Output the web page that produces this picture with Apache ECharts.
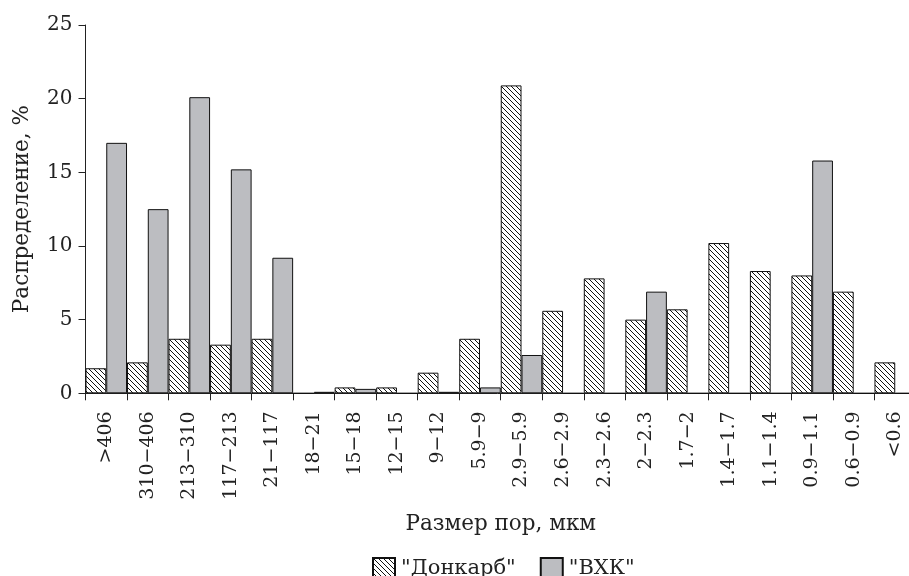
<!DOCTYPE html>
<html>
<head>
<meta charset="utf-8">
<script src="https://cdn.jsdelivr.net/npm/echarts@6/dist/echarts.min.js"></script>
<style>html,body{margin:0;padding:0;background:#fff}#c{width:909px;height:576px}</style>
</head>
<body>
<div id="c"></div>
<script>
var categories = ['>406','310−406','213−310','117−213','21−117','18−21','15−18','12−15','9−12','5.9−9','2.9−5.9','2.6−2.9','2.3−2.6','2−2.3','1.7−2','1.4−1.7','1.1−1.4','0.9−1.1','0.6−0.9','<0.6'];
var donkarb = [1.7,2.1,3.7,3.3,3.7,0,0.4,0.4,1.4,3.7,20.9,5.6,7.8,5.0,5.7,10.2,8.3,8.0,6.9,2.1];
var vhk = [17.0,12.5,20.1,15.2,9.2,0.1,0.3,0,0.1,0.4,2.6,0,0,6.9,0,0,0,15.8,0,0];
var seriesNames = ['"Донкарб"','"ВХК"'];
var yTicks = [0,5,10,15,20,25];

var FONT = 'DejaVu Serif';

function hatch(){
  var s = 5;
  var c = document.createElement('canvas');
  c.width = s; c.height = s;
  var g = c.getContext('2d');
  g.fillStyle = '#fff'; g.fillRect(0,0,s,s);
  g.strokeStyle = '#111'; g.lineWidth = 1;
  [-s,0,s].forEach(function(k){
    g.beginPath(); g.moveTo(k,0); g.lineTo(k+s,s); g.stroke();
  });
  return c;
}

var chart = echarts.init(document.getElementById('c'));
chart.setOption({
  animation:false,
  backgroundColor:'#fff',
  grid:{left:85.5,right:-7,top:25,bottom:182.7,containLabel:false,outerBoundsMode:'none'},
  legend:{
    data:seriesNames,
    left:367, top:552,
    icon:'rect',
    itemWidth:22, itemHeight:22, itemGap:24,
    textStyle:{fontFamily:FONT,fontSize:21,color:'#222',padding:[0,0,0,1]}
  },
  xAxis:{
    type:'category',
    data:categories,
    name:'Размер пор, мкм',
    nameLocation:'middle',
    nameGap:120,
    nameTextStyle:{fontFamily:FONT,fontSize:21.5,color:'#222'},
    axisLine:{lineStyle:{color:'#222',width:1}},
    axisTick:{show:true,length:7,lineStyle:{color:'#222'}},
    axisLabel:{rotate:90,interval:0,fontFamily:FONT,fontSize:19,color:'#222',margin:18}
  },
  yAxis:{
    type:'value',
    min:0,max:25,interval:5,
    name:'Распределение, %',
    nameLocation:'middle',
    nameGap:52,
    nameRotate:90,
    nameTextStyle:{fontFamily:FONT,fontSize:21.5,color:'#222'},
    splitLine:{show:false},
    axisLine:{show:true,lineStyle:{color:'#222',width:1}},
    axisTick:{show:true,length:7,lineStyle:{color:'#222'}},
    axisLabel:{fontFamily:FONT,fontSize:20,color:'#222',margin:13,
      formatter:function(v){return yTicks.indexOf(v)>=0?String(v):'';}}
  },
  series:[
    {name:seriesNames[0],type:'bar',data:donkarb,barGap:'0%',barCategoryGap:'0%',
     itemStyle:{color:{image:hatch(),repeat:'repeat'},borderColor:'#111',borderWidth:1}},
    {name:seriesNames[1],type:'bar',data:vhk,barGap:'0%',barCategoryGap:'0%',
     itemStyle:{color:'#bcbdc1',borderColor:'#111',borderWidth:1}}
  ]
});
</script>
</body>
</html>
